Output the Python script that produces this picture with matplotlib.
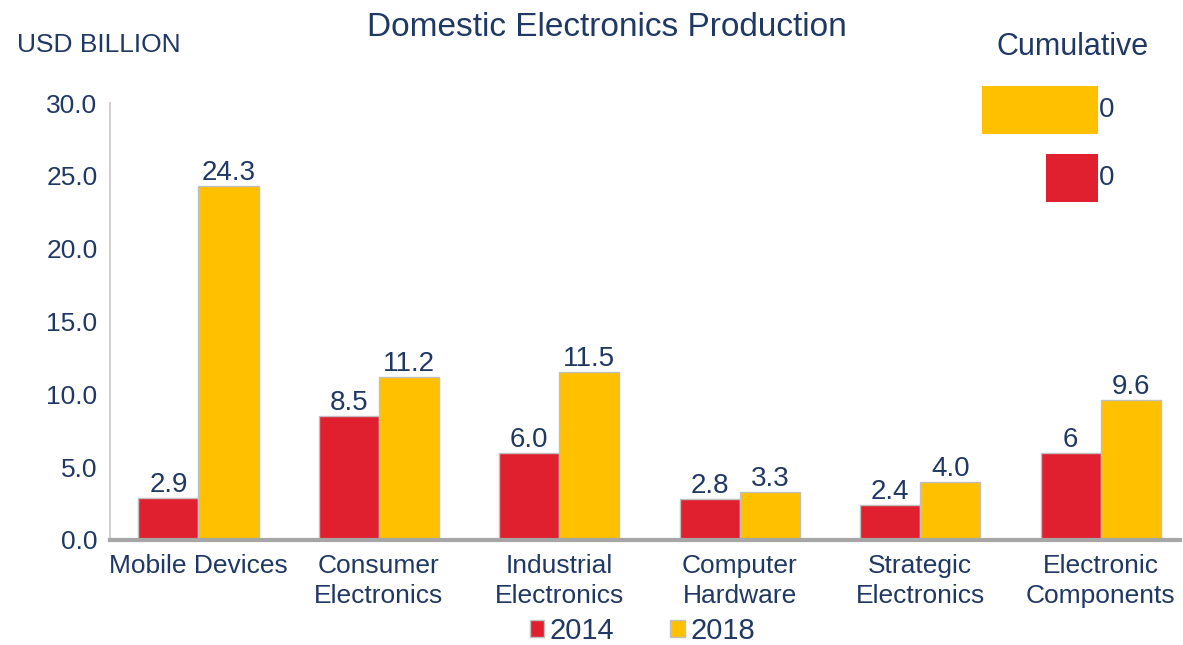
import matplotlib.pyplot as plt
import numpy as np

plt.rcParams['font.family'] = ['Liberation Sans', 'DejaVu Sans']

# Data
categories = ['Mobile Devices', 'Consumer\nElectronics', 'Industrial\nElectronics',
              'Computer\nHardware', 'Strategic\nElectronics', 'Electronic\nComponents']
vals_2014 = [2.9, 8.5, 6.0, 2.8, 2.4, 6.0]
vals_2018 = [24.3, 11.2, 11.5, 3.3, 4.0, 9.6]
labels_2014 = ['2.9', '8.5', '6.0', '2.8', '2.4', '6']
labels_2018 = ['24.3', '11.2', '11.5', '3.3', '4.0', '9.6']
yticks = [0, 5, 10, 15, 20, 25, 30]

# cumulative inset (labels in the reference read "0")
cum_names = ['2018', '2014']
cum_vals = [sum(vals_2018), sum(vals_2014)]
cum_labels = ['0', '0']

red = '#E0202E'
yellow = '#FFC000'
navy = '#1F3864'

fig = plt.figure(figsize=(11.83, 6.45), dpi=100)
ax = fig.add_axes([0.093, 0.163, 0.9045, 0.677])

x = np.arange(len(categories))
w = 0.333
b1 = ax.bar(x - w/2, vals_2014, w, color=red, edgecolor='#BFBFBF', linewidth=1, label='2014')
b2 = ax.bar(x + w/2, vals_2018, w, color=yellow, edgecolor='#BFBFBF', linewidth=1, label='2018')

for bars, labs in [(b1, labels_2014), (b2, labels_2018)]:
    for bar, lab in zip(bars, labs):
        ax.annotate(lab, (bar.get_x() + bar.get_width()/2, bar.get_height()),
                    xytext=(0, 0), textcoords='offset points', ha='center', va='bottom',
                    fontsize=20, color=navy)

ax.set_xlim(-0.49, 5.44)
ax.set_ylim(0, 30)
ax.set_yticks(yticks)
ax.set_yticklabels([f'{v:.1f}' for v in yticks])
ax.set_xticks(x)
ax.set_xticklabels(categories, linespacing=1.35)
ax.tick_params(axis='y', length=0, pad=9, labelsize=19, labelcolor=navy)
ax.tick_params(axis='x', length=0, pad=10, labelsize=19, labelcolor=navy)
for s in ['top', 'right']:
    ax.spines[s].set_visible(False)
ax.spines['left'].set_color('#D0D0D0')
ax.spines['left'].set_linewidth(1.5)
ax.spines['bottom'].set_color('#A6A6A6')
ax.spines['bottom'].set_linewidth(3)

fig.text(0.513, 0.958, 'Domestic Electronics Production', ha='center', va='center',
         fontsize=24, color=navy)
fig.text(0.014, 0.930, 'USD BILLION', ha='left', va='center', fontsize=19, color=navy)
fig.text(0.907, 0.927, 'Cumulative', ha='center', va='center', fontsize=22, color=navy)

# cumulative inset bars (right aligned)
ins = fig.add_axes([0.830, 0.671, 0.098, 0.211])
ins.barh([0, 1], cum_vals, height=0.7, color=[yellow, red])
ins.set_xlim(max(cum_vals), 0)
ins.set_ylim(1.5, -0.5)
for i, lab in enumerate(cum_labels):
    ins.annotate(lab, (0, i), xytext=(1, 0), textcoords='offset points',
                 ha='left', va='center', fontsize=20, color=navy, annotation_clip=False)
ins.axis('off')

fig.legend(handles=[b1, b2], labels=['2014', '2018'], loc='center',
           bbox_to_anchor=(0.543, 0.022), ncol=2, frameon=False, fontsize=21,
           handlelength=0.5, handleheight=0.5, handletextpad=0.2, columnspacing=1.9,
           labelcolor=navy)

plt.savefig('out.png', dpi=100)
